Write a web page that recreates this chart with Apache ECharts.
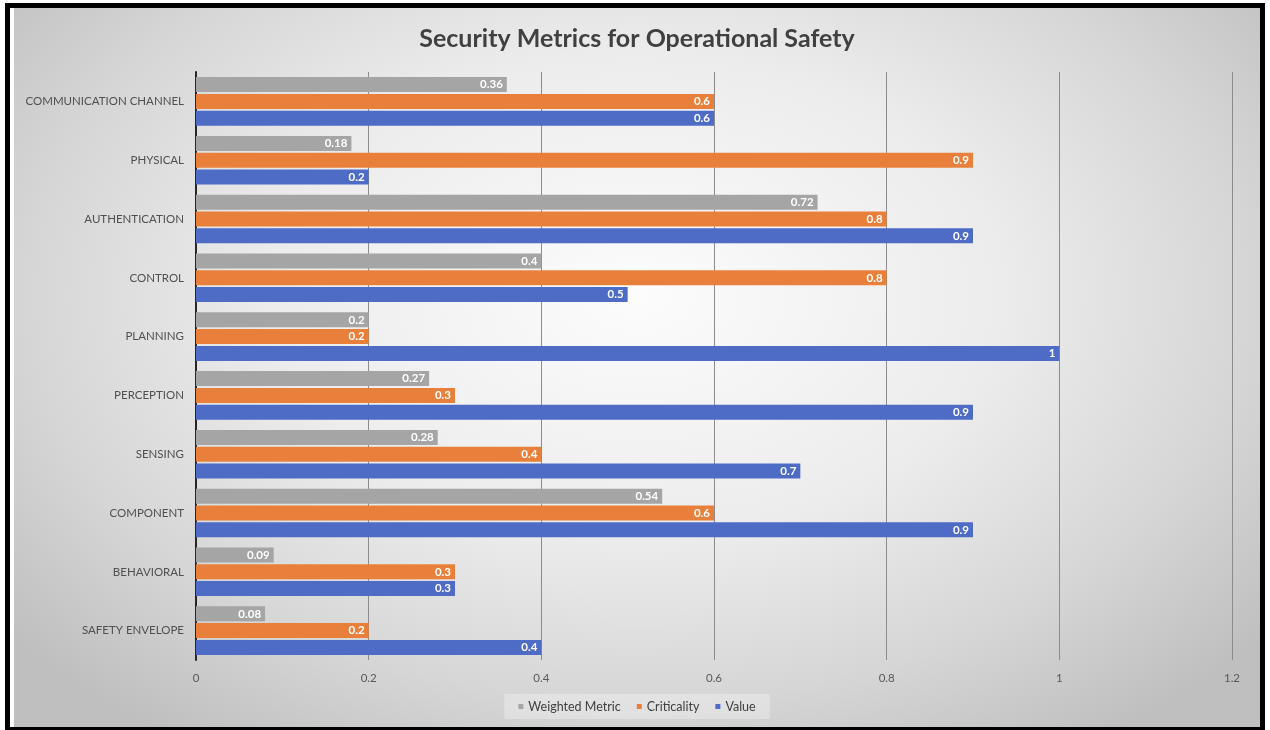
<!DOCTYPE html>
<html>
<head>
<meta charset="utf-8">
<script src="https://cdn.jsdelivr.net/npm/echarts@6/dist/echarts.min.js"></script>
<style>
  html, body { margin: 0; padding: 0; background: #ffffff; width: 1270px; height: 730px; overflow: hidden; }
  #frame { position: absolute; left: 5px; top: 3px; width: 1250px; height: 719px; border: 5px solid #000; border-bottom-width: 3px; background: #fff; }
  #chart { position: absolute; left: 4px; top: 0; width: 1246px; height: 719px;
    background: radial-gradient(ellipse 65% 75% at 50% 40%, #fcfcfc 0%, #ececec 45%, #d6d6d6 75%, #bfbfbf 100%); }
</style>
</head>
<body>
<div id="frame"><div id="chart"></div></div>
<script>
const categories = ['SAFETY ENVELOPE', 'BEHAVIORAL', 'COMPONENT', 'SENSING', 'PERCEPTION', 'PLANNING', 'CONTROL', 'AUTHENTICATION', 'PHYSICAL', 'COMMUNICATION CHANNEL'];
const weightedMetric = [0.08, 0.09, 0.54, 0.28, 0.27, 0.2, 0.4, 0.72, 0.18, 0.36];
const criticality = [0.2, 0.3, 0.6, 0.4, 0.3, 0.2, 0.8, 0.8, 0.9, 0.6];
const value = [0.4, 0.3, 0.9, 0.7, 0.9, 1, 0.5, 0.9, 0.2, 0.6];
const xTicks = [0, 0.2, 0.4, 0.6, 0.8, 1, 1.2];

const chart = echarts.init(document.getElementById('chart'));
const font = 'Lato, "Open Sans", sans-serif';
const labelStyle = { show: true, position: 'insideRight', color: '#ffffff', fontWeight: 'bold', fontSize: 11.5, fontFamily: font, distance: 4 };
function mk(name, data, color) {
  return { name: name, type: 'bar', data: data, barWidth: 15, barGap: '12%', itemStyle: { color: color }, label: labelStyle };
}
chart.setOption({
  animation: false,
  backgroundColor: 'transparent',
  title: {
    text: 'Security Metrics for Operational Safety', left: 'center', top: 13,
    textStyle: { fontFamily: font, fontSize: 25, fontWeight: 'bold', color: '#404040' }
  },
  legend: {
    data: ['Weighted Metric', 'Criticality', 'Value'],
    top: 686, left: 'center', itemWidth: 5, itemHeight: 5, itemGap: 16,
    icon: 'rect', padding: [6, 14], backgroundColor: 'rgba(255,255,255,0.3)',
    textStyle: { fontFamily: font, fontSize: 12.5, color: '#404040' }
  },
  grid: { left: 182, right: 28, top: 64, bottom: 67, containLabel: false },
  xAxis: {
    type: 'value', min: 0, max: 1.2, interval: 0.2,
    axisLine: { show: false }, axisTick: { show: false },
    axisLabel: { fontFamily: font, fontSize: 11.5, color: '#595959', margin: 12,
      formatter: function (v) { const t = xTicks.find(x => Math.abs(x - v) < 1e-9); return String(t !== undefined ? t : v); } },
    splitLine: { show: true, lineStyle: { color: '#8c8c8c', width: 1 } }
  },
  yAxis: {
    type: 'category', data: categories,
    axisLine: { show: true, lineStyle: { color: '#262626', width: 2 } },
    axisTick: { show: false },
    axisLabel: { fontFamily: font, fontSize: 11.5, color: '#505050', margin: 12 }
  },
  series: [
    mk('Weighted Metric', weightedMetric, '#A5A5A5'),
    mk('Criticality', criticality, '#E8803C'),
    mk('Value', value, '#4E6BC6')
  ]
});
</script>
</body>
</html>
